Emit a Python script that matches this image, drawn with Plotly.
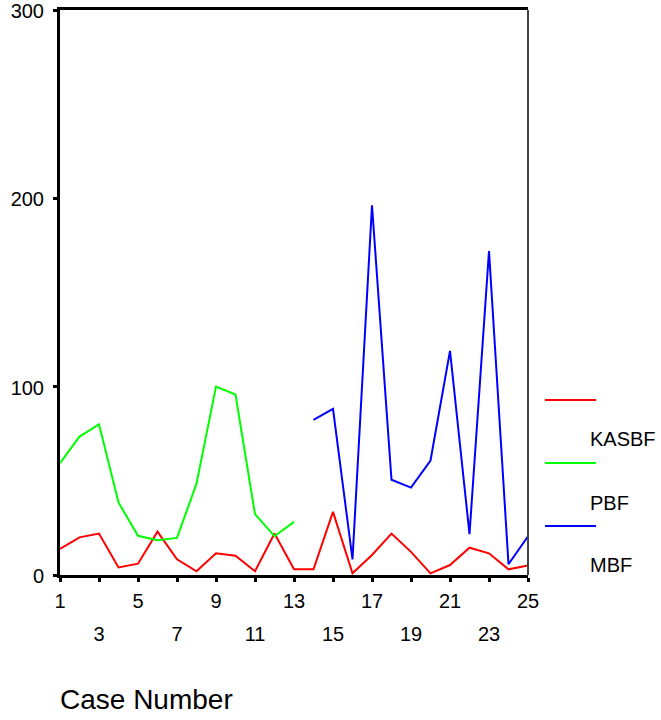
import plotly.graph_objects as go

cases = list(range(1, 26))
kasbf = [13.8, 20, 22, 4, 6, 23, 8.3, 2, 11.5, 10.2, 2, 22, 3,
         3, 33.5, 0.9, 10.6, 22, 12.3, 0.9, 5.3, 14.5, 11.5, 3, 5]
pbf = [59.4, 73.5, 80, 38.5, 20.8, 18.5, 19.7, 48.5, 100, 95.8, 32.3, 20.6, 28.2,
       None, None, None, None, None, None, None, None, None, None, None, None]
mbf = [None] * 13 + [82.4, 88.2, 8.3, 196.3, 50.6, 46.4, 60.8, 119, 21.7, 172, 5.7, 20.6]

series_names = ["KASBF", "PBF", "MBF"]
series_colors = ["#ff0000", "#00ff00", "#0000ff"]
y_ticks = [0, 100, 200, 300]
x_row1 = [1, 5, 9, 13, 17, 21, 25]
x_row2 = [3, 7, 11, 15, 19, 23]

FONT = "Liberation Sans, Arial, sans-serif"

fig = go.Figure()
for name, vals, col in zip(series_names, [kasbf, pbf, mbf], series_colors):
    fig.add_trace(go.Scatter(x=cases, y=vals, mode="lines", name=name,
                             line=dict(color=col, width=2), connectgaps=False,
                             showlegend=False))
# dummy trace on xaxis2 so the second label row renders
fig.add_trace(go.Scatter(x=[1, 25], y=[None, None], xaxis="x2", showlegend=False,
                         hoverinfo="skip"))

all_ticks = sorted(x_row1 + x_row2)
fig.update_layout(
    width=661, height=720,
    margin=dict(l=60, r=133, t=10, b=145, autoexpand=False),
    paper_bgcolor="white", plot_bgcolor="white",
    font=dict(family=FONT, size=20, color="black"),
    xaxis=dict(range=[1, 25], tickvals=all_ticks,
               ticktext=[str(v) if v in x_row1 else "" for v in all_ticks],
               ticks="outside", ticklen=4, tickwidth=3, tickcolor="black",
               showline=True, linecolor="black", linewidth=3, mirror=True,
               showgrid=False, zeroline=False, ticklabelstandoff=2,
               automargin=False, ticklabeloverflow="allow", tickfont=dict(size=20)),
    xaxis2=dict(range=[1, 25], overlaying="x", side="bottom", matches="x",
                tickvals=x_row2, ticktext=[str(v) for v in x_row2],
                ticks="", showline=False, showgrid=False, zeroline=False,
                ticklabelstandoff=45, automargin=False, ticklabeloverflow="allow",
                tickfont=dict(size=20)),
    yaxis=dict(range=[0, 300], tickvals=y_ticks,
               ticktext=[str(v) for v in y_ticks],
               ticks="outside", ticklen=4, tickwidth=3, tickcolor="black",
               showline=True, linecolor="black", linewidth=3, mirror=False,
               showgrid=False, zeroline=False, ticklabelstandoff=5,
               ticklabelshift=1, automargin=False, ticklabeloverflow="allow",
               tickfont=dict(size=20)),
)

# right frame edge
fig.add_shape(type="line", xref="paper", yref="paper", x0=1, x1=1, y0=0, y1=1,
              line=dict(color="#444444", width=2))

# custom legend (SPSS style)
leg_line_y = [0.3097, 0.1982, 0.0867]
leg_text_y = [0.2407, 0.1274, 0.0177]
for name, col, ly, ty in zip(series_names, series_colors, leg_line_y, leg_text_y):
    fig.add_shape(type="line", xref="paper", yref="paper", x0=1.0363, x1=1.1453,
                  y0=ly, y1=ly, line=dict(color=col, width=2))
    fig.add_annotation(xref="paper", yref="paper", x=1.1282, y=ty, text=name,
                       showarrow=False, xanchor="left", yanchor="middle",
                       font=dict(family=FONT, size=20, color="black"))

fig.add_annotation(xref="paper", yref="paper", x=-0.005, y=-0.221, text="Case Number",
                   showarrow=False, xanchor="left", yanchor="middle",
                   font=dict(family=FONT, size=28, color="black"))

# remove the browser's default 8px body margin so the figure sits at (0, 0)
fig.write_html("out.html", config={"displayModeBar": False},
               post_script="document.body.style.margin='0';")
